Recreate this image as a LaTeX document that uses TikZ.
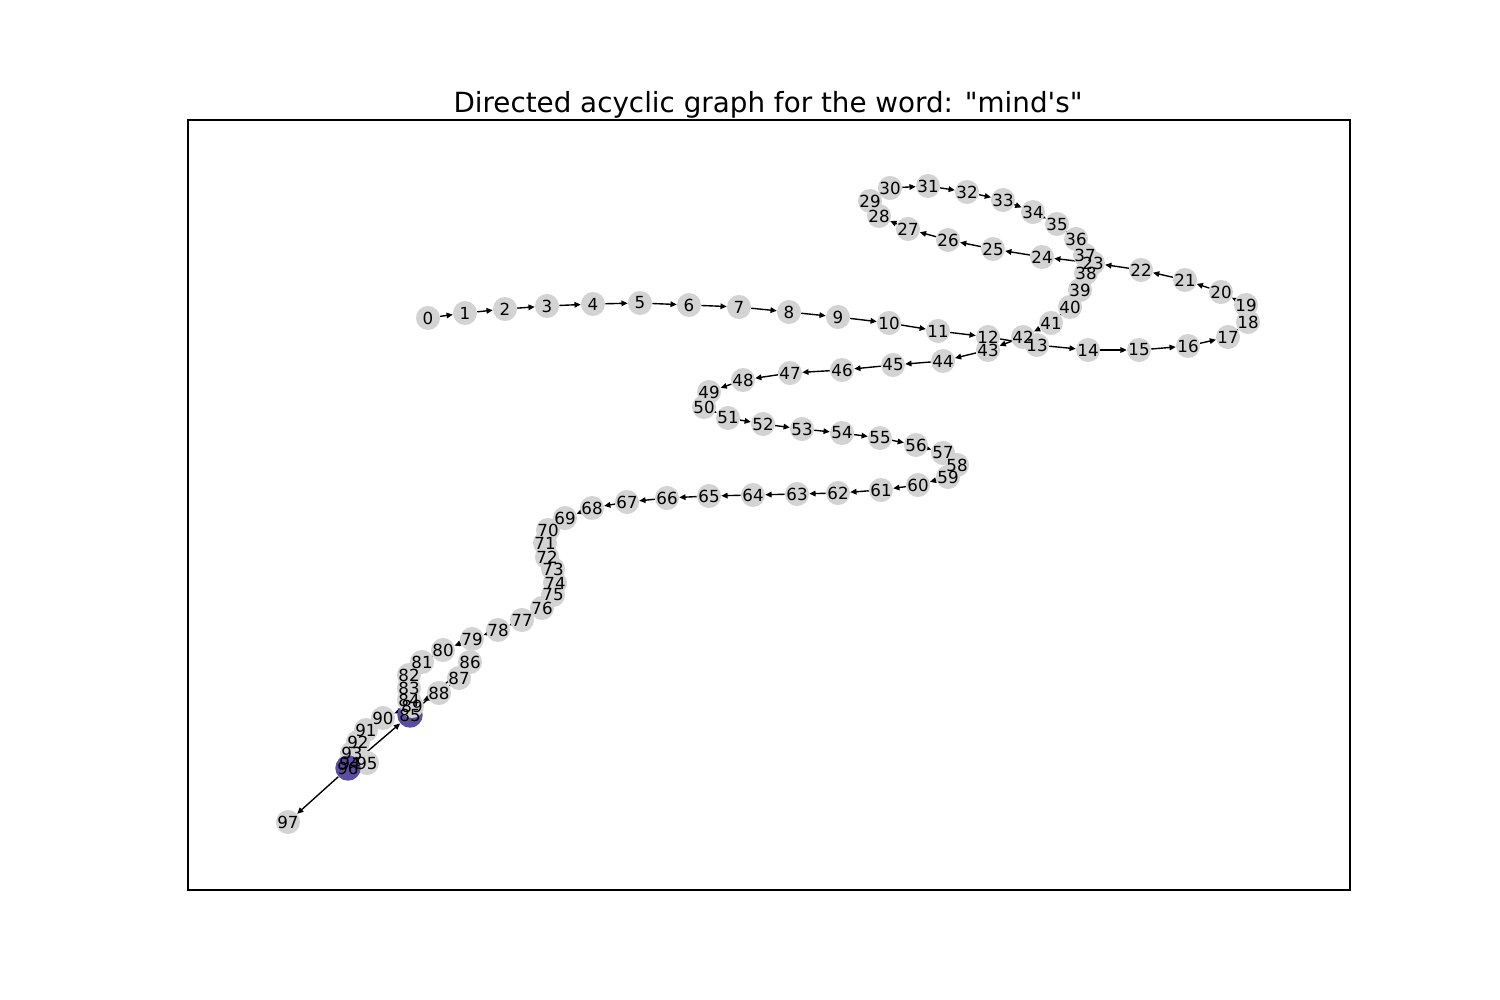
\documentclass[tikz,border=0pt]{standalone}
\usepackage{fontspec}
\newfontfamily\dv{DejaVu Sans}
\usetikzlibrary{arrows.meta}
\pgfdeclarelayer{bg}
\pgfsetlayers{bg,main}
\definecolor{nodegray}{RGB}{211,211,211}
\definecolor{hl}{RGB}{91,78,160}
\tikzset{
  vtx/.style={circle, fill=nodegray, minimum size=17.3pt, inner sep=0pt},
  hlv/.style={circle, fill=hl, minimum size=18.3pt, inner sep=0pt},
  lbl/.style={font=\dv\fontsize{12}{14}\selectfont, inner sep=0pt},
  arr/.style={-{Triangle[length=4.5pt,width=4pt]}, line width=1pt},
  ttl/.style={font=\dv\fontsize{20}{24}\selectfont, inner sep=0pt, anchor=base},
}
\begin{document}
\begin{tikzpicture}[x=0.72pt,y=-0.72pt]
\useasboundingbox (0,0) rectangle (1500,1000);
\draw[line width=0.8pt] (188,120) rectangle (1350,890);
\node[ttl] (title) at (768,113) {Directed acyclic graph for the word: "mind\textquotesingle s"};
\foreach \i/\x/\y in {
0/428/318, 1/465/313, 2/505/309, 3/547/306, 4/593/304, 5/640/303, 6/689/305, 7/739/307, 8/789/312, 9/838/317,
10/889/323, 11/938/331, 12/988/337, 13/1037/345, 14/1088/350, 15/1139/350, 16/1188/346, 17/1228/337, 18/1248/322, 19/1246/305,
20/1221/292, 21/1185/280, 22/1141/270, 23/1093/263, 24/1042/257, 25/993/249, 26/948/240, 27/908/229, 28/879/216, 29/870/201,
30/890/188, 31/928/186, 32/967/192, 33/1003/200, 34/1033/212, 35/1057/224, 36/1076/239, 37/1085/255, 38/1086/273, 39/1080/290,
40/1070/307, 41/1051/323, 42/1023/337, 43/988/350, 44/943/361, 45/893/365, 46/842/370, 47/790/373, 48/743/380, 49/709/392,
50/704/407, 51/728/418, 52/763/424, 53/802/429, 54/842/433, 55/880/438, 56/916/445, 57/943/453, 58/957/465, 59/948/477,
60/918/485, 61/881/490, 62/838/493, 63/797/494, 64/753/495, 65/709/496, 66/667/498, 67/627/502, 68/592/508, 69/565/518,
70/548/530, 71/545/543, 72/547/557, 73/553/569, 74/555/583, 75/553/595, 76/542/608, 77/522/620, 78/498/630, 79/472/639,
80/443/650, 81/422/662, 82/409/675, 83/409/688, 84/409/700, 85/410/715, 86/470/662, 87/459/678, 88/439/693, 89/412/706,
90/383/718, 91/366/730, 92/358/742, 93/352/753, 94/350/763, 95/367/763, 96/348/768, 97/288/822}{
  \ifnum\i=85 \def\st{hlv}\else\ifnum\i=96 \def\st{hlv}\else\def\st{vtx}\fi\fi
  \node[\st] (n\i) at (\x,\y) {};
}
\begin{pgfonlayer}{bg}
\foreach \i [evaluate=\i as \j using int(\i+1)] in {0,...,96}
  \draw[arr] (n\i) -- (n\j);
\draw[arr] (n96) -- (n85);
\end{pgfonlayer}
\foreach \i in {0,...,97}
  \node[lbl] (l\i) at (n\i) {\i};
\end{tikzpicture}
\end{document}
